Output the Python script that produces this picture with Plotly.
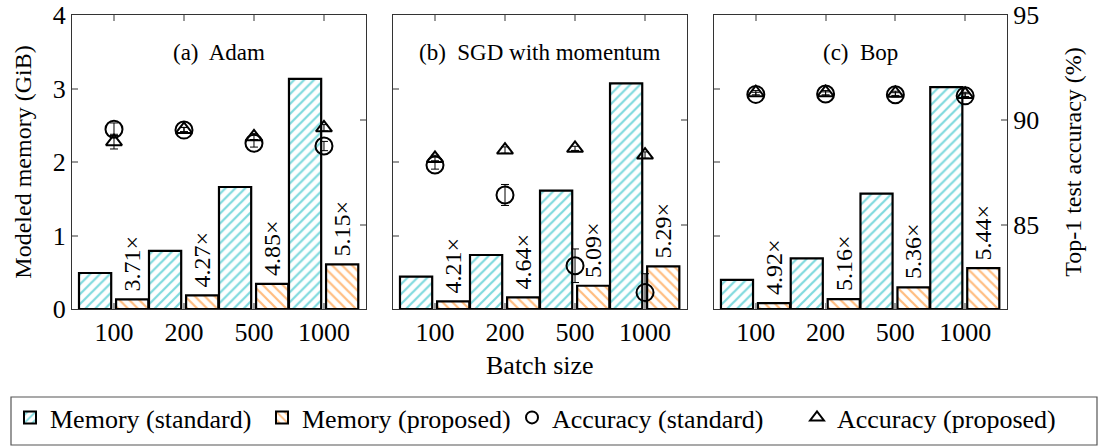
import plotly.graph_objects as go

batch_labels = ["100", "200", "500", "1000"]
panel_titles = ["(a)  Adam", "(b)  SGD with momentum", "(c)  Bop"]

mem_standard = [
    [0.49, 0.79, 1.66, 3.13],
    [0.44, 0.735, 1.61, 3.07],
    [0.395, 0.69, 1.57, 3.02],
]
mem_proposed = [
    [0.132, 0.185, 0.342, 0.608],
    [0.105, 0.158, 0.316, 0.580],
    [0.080, 0.134, 0.293, 0.555],
]
ratio_labels = [
    ["3.71×", "4.27×", "4.85×", "5.15×"],
    ["4.21×", "4.64×", "5.09×", "5.29×"],
    ["4.92×", "5.16×", "5.36×", "5.44×"],
]
acc_standard = [
    [89.56, 89.52, 88.89, 88.76],
    [87.86, 86.43, 83.06, 81.78],
    [91.22, 91.24, 91.20, 91.15],
]
acc_standard_err = [
    [0.30, 0.12, 0.18, 0.22],
    [0.20, 0.50, 0.80, 0.90],
    [0.10, 0.10, 0.10, 0.10],
]
acc_proposed = [
    [88.97, 89.55, 89.20, 89.63],
    [88.17, 88.57, 88.65, 88.33],
    [91.30, 91.30, 91.27, 91.22],
]
acc_proposed_err = [
    [0.35, 0.10, 0.15, 0.15],
    [0.15, 0.15, 0.10, 0.15],
    [0.10, 0.10, 0.10, 0.10],
]

FONT = "Liberation Serif, Times New Roman, serif"
CYAN = "#00b4bc"
ORANGE = "#ff7a00"
AXC = "#333333"
TICKC = "#999999"
W, H = 1102, 446
ML, MR, MT, MB = 72, 95, 15, 137
PW, PH = W - ML - MR, H - MT - MB

def px_x(px):
    return (px - ML) / PW

def px_y(py):
    return (H - MB - py) / PH

xpos = [0, 1, 2, 3]
domains = [[0.0, 0.3144], [0.3433, 0.6578], [0.6866, 1.0]]

fig = go.Figure()

for p in range(3):
    xa = "x" if p == 0 else f"x{p+1}"
    ym = "y" if p == 0 else f"y{2*p+1}"
    fig.add_trace(go.Bar(
        x=xpos, y=mem_standard[p], xaxis=xa, yaxis=ym,
        width=0.46, offset=-0.50, legend="legend",
        name="Memory (standard)", legendgroup="ms", showlegend=(p == 0),
        marker=dict(color="white", line=dict(color="black", width=2.2),
                    pattern=dict(shape="/", fgcolor=CYAN, bgcolor="white",
                                 size=7, solidity=0.32)),
    ))
    fig.add_trace(go.Bar(
        x=xpos, y=mem_proposed[p], xaxis=xa, yaxis=ym,
        width=0.46, offset=0.03, legend="legend",
        name="Memory (proposed)", legendgroup="mp", showlegend=(p == 0),
        marker=dict(color="white", line=dict(color="black", width=2.2),
                    pattern=dict(shape="\\", fgcolor=ORANGE, bgcolor="white",
                                 size=7, solidity=0.32)),
    ))

for p in range(3):
    xa = "x" if p == 0 else f"x{p+1}"
    ya = f"y{2*p+2}"
    fig.add_trace(go.Scatter(
        x=xpos, y=acc_standard[p], xaxis=xa, yaxis=ya, mode="markers",
        legend="legend2",
        name="Accuracy (standard)", legendgroup="as", showlegend=(p == 0),
        marker=dict(symbol="circle-open", size=17, color="black",
                    line=dict(width=2, color="black")),
        error_y=dict(type="data", array=acc_standard_err[p], color="black",
                     thickness=1, width=4),
    ))
    fig.add_trace(go.Scatter(
        x=xpos, y=acc_proposed[p], xaxis=xa, yaxis=ya, mode="markers",
        legend="legend2",
        name="Accuracy (proposed)", legendgroup="ap", showlegend=(p == 0),
        marker=dict(symbol="triangle-up-open", size=14, color="black",
                    line=dict(width=2, color="black")),
        error_y=dict(type="data", array=acc_proposed_err[p], color="black",
                     thickness=1, width=4),
    ))

annotations = []
for p in range(3):
    xa = "x" if p == 0 else f"x{p+1}"
    ym = "y" if p == 0 else f"y{2*p+1}"
    for i in range(4):
        annotations.append(dict(
            x=xpos[i] + 0.26, y=mem_proposed[p][i], xref=xa, yref=ym,
            text=ratio_labels[p][i], textangle=-90, showarrow=False,
            xanchor="center", yanchor="bottom", yshift=6,
            font=dict(family=FONT, size=24, color="black"),
        ))
    annotations.append(dict(
        x=(domains[p][0] + domains[p][1]) / 2, y=0.874, xref="paper", yref="paper",
        text=panel_titles[p], showarrow=False, xanchor="center", yanchor="middle",
        font=dict(family=FONT, size=23, color="black"),
    ))

annotations.append(dict(
    x=px_x(540), y=px_y(366), xref="paper", yref="paper",
    text="Batch size", showarrow=False, xanchor="center", yanchor="middle",
    font=dict(family=FONT, size=26, color="black"),
))

legend_common = dict(
    orientation="h", xref="container", yref="container", xanchor="left",
    yanchor="top", y=1 - 394 / H, borderwidth=0, bgcolor="rgba(0,0,0,0)",
    font=dict(family=FONT, size=26), itemsizing="constant", traceorder="normal",
    entrywidthmode="pixels",
)

layout = dict(
    width=W, height=H,
    margin=dict(l=ML, r=MR, t=MT, b=MB, autoexpand=False),
    paper_bgcolor="white", plot_bgcolor="white",
    font=dict(family=FONT, size=26, color="black"),
    barmode="overlay",
    annotations=annotations,
    legend=dict(legend_common, x=10 / W, entrywidth=207),
    legend2=dict(legend_common, x=512 / W, entrywidth=240),
    shapes=[dict(type="rect", xref="paper", yref="paper",
                 x0=px_x(11), x1=px_x(1097), y0=px_y(445), y1=px_y(397),
                 line=dict(color="#555", width=1.2), fillcolor="rgba(0,0,0,0)")],
)

for p in range(3):
    xk = "xaxis" if p == 0 else f"xaxis{p+1}"
    ymk = "yaxis" if p == 0 else f"yaxis{2*p+1}"
    yak = f"yaxis{2*p+2}"
    ym = "y" if p == 0 else f"y{2*p+1}"
    xa = "x" if p == 0 else f"x{p+1}"
    layout[xk] = dict(
        domain=domains[p], anchor=ym, range=[-0.6, 3.6],
        tickvals=xpos, ticktext=batch_labels, ticks="inside", ticklen=6,
        tickcolor=TICKC, tickwidth=1.5, showline=True, linecolor=AXC,
        linewidth=1.3, mirror="ticks", showgrid=False, zeroline=False,
        tickfont=dict(family=FONT, size=26), automargin=False,
    )
    layout[ymk] = dict(
        anchor=xa, range=[0, 4], tickvals=[0, 1, 2, 3, 4], ticks="inside",
        ticklen=6, tickcolor=TICKC, tickwidth=1.5, showline=True,
        linecolor=AXC, linewidth=1.3, showgrid=False, zeroline=False,
        showticklabels=(p == 0), tickfont=dict(family=FONT, size=26),
        automargin=False,
    )
    layout[yak] = dict(
        anchor=xa, overlaying=ym, side="right", range=[81, 95],
        tickvals=[85, 90, 95], ticks="inside", ticklen=6, tickcolor=TICKC,
        tickwidth=1.5, showline=True, linecolor=AXC, linewidth=1.3,
        showgrid=False, zeroline=False, showticklabels=(p == 2),
        tickfont=dict(family=FONT, size=26), automargin=False,
    )

layout["yaxis"]["title"] = dict(text="Modeled memory (GiB)", standoff=14,
                                font=dict(family=FONT, size=24))
layout["yaxis6"]["title"] = dict(text="Top-1 test accuracy (%)", standoff=25,
                                 font=dict(family=FONT, size=24))

fig.update_layout(**layout)
fig.write_html("out.html")
